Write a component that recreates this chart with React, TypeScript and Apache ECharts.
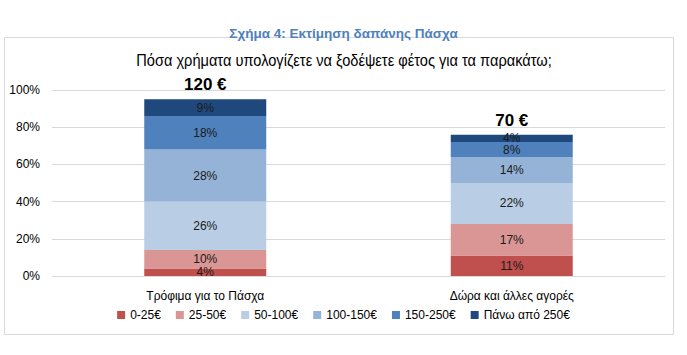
import React, { useEffect, useRef } from "react";
import * as echarts from "echarts";

const categories = ["Τρόφιμα για το Πάσχα", "Δώρα και άλλες αγορές"];
const seriesNames = ["0-25€", "25-50€", "50-100€", "100-150€", "150-250€", "Πάνω από 250€"];
const v0_25 = [4, 11];
const v25_50 = [10, 17];
const v50_100 = [26, 22];
const v100_150 = [28, 14];
const v150_250 = [18, 8];
const vOver250 = [9, 4];
const totals = ["120 €", "70 €"];
const colors = ["#c0504d", "#d99694", "#b9cde5", "#95b3d7", "#4f81bd", "#1f497d"];

const FONT = "'Liberation Sans', Arial, sans-serif";

export default function App() {
  const ref = useRef<HTMLDivElement>(null);
  useEffect(() => {
    if (!ref.current) return;
    const chart = echarts.init(ref.current, null, { renderer: "svg" });
    const values = [v0_25, v25_50, v50_100, v100_150, v150_250, vOver250];
    const series: any[] = values.map((d, i) => ({
      name: seriesNames[i],
      type: "bar",
      stack: "s",
      data: d,
      barWidth: 122,
      itemStyle: { color: colors[i] },
      label: {
        show: true,
        position: "inside",
        formatter: "{c}%",
        fontSize: 12,
        fontFamily: FONT,
        color: "#1a1a1a",
      },
    }));
    series.push({
      name: "total",
      type: "bar",
      stack: "s",
      data: [0, 0],
      barWidth: 122,
      itemStyle: { color: "transparent" },
      label: {
        show: true,
        position: "top",
        distance: 6,
        formatter: (p: any) => totals[p.dataIndex],
        fontSize: 17,
        fontWeight: "bold",
        fontFamily: FONT,
        color: "#000",
      },
    });
    chart.setOption({
      animation: false,
      textStyle: { fontFamily: FONT },
      title: [
        {
          text: "Σχήμα 4: Εκτίμηση δαπάνης Πάσχα",
          left: "center",
          top: 21,
          textStyle: { fontSize: 13.5, fontWeight: "bold", color: "#4f81bd", fontFamily: FONT },
        },
      ],
      graphic: [
        {
          type: "rect",
          shape: { x: 4.5, y: 37.5, width: 669, height: 297 },
          style: { fill: "none", stroke: "#d9d9d9", lineWidth: 1 },
          z: -1,
        },
        {
          type: "text",
          x: 344,
          y: 60,
          scaleX: 0.86,
          style: {
            text: "Πόσα χρήματα υπολογίζετε να ξοδέψετε φέτος για τα παρακάτω;",
            x: 0,
            y: 0,
            align: "center",
            verticalAlign: "middle",
            fontSize: 17,
            fontFamily: FONT,
            fill: "#000",
          },
        },
      ],
      legend: {
        data: seriesNames,
        bottom: 29,
        left: "center",
        itemWidth: 8,
        itemHeight: 8,
        itemGap: 15,
        icon: "rect",
        textStyle: { fontSize: 12, color: "#000", fontFamily: FONT },
      },
      grid: { left: 52, right: 22, top: 90, bottom: 79 },
      xAxis: {
        type: "category",
        data: categories,
        axisLine: { show: false },
        axisTick: { show: false },
        axisLabel: { fontSize: 12, color: "#000", margin: 14, fontFamily: FONT },
      },
      yAxis: {
        type: "value",
        min: 0,
        max: 100,
        interval: 20,
        axisLabel: { formatter: "{value}%", fontSize: 12, color: "#000", margin: 12, fontFamily: FONT },
        splitLine: { lineStyle: { color: "#d9d9d9" } },
        axisLine: { show: false },
        axisTick: { show: false },
      },
      series,
    });
    return () => chart.dispose();
  }, []);
  return (
    <div
      ref={ref}
      style={{ position: "fixed", left: 0, top: 0, width: 687, height: 355, background: "#fff" }}
    />
  );
}
